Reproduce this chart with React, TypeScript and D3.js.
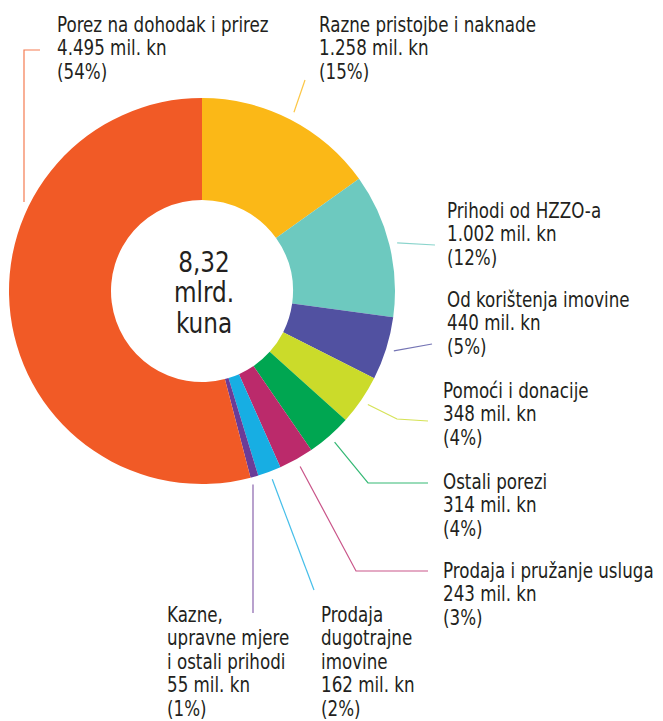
import React, { useEffect, useRef } from 'react';
import * as d3 from 'd3';

// izvori prihoda, mil. kn
const names: string[][] = [
  ['Razne pristojbe i naknade'],
  ['Prihodi od HZZO-a'],
  ['Od korištenja imovine'],
  ['Pomoći i donacije'],
  ['Ostali porezi'],
  ['Prodaja i pružanje usluga'],
  ['Prodaja', 'dugotrajne', 'imovine'],
  ['Kazne,', 'upravne mjere', 'i ostali prihodi'],
  ['Porez na dohodak i prirez'],
];
const values = [1258, 1002, 440, 348, 314, 243, 162, 55, 4495];
const colors = ['#FBB817', '#6DC9BF', '#5151A1', '#CBDB2A', '#00A651', '#BB2A6B', '#17AEE3', '#6B3C97', '#F15A26'];

// where the labels sit and how the leader lines bend (page pixels)
const labelPos = [
  { x: 319, y: 32, pts: [[305, 80]] },
  { x: 447, y: 218, pts: [[435, 245]] },
  { x: 447, y: 307, pts: [[432, 344]] },
  { x: 443, y: 398, pts: [[397, 419], [428, 421]] },
  { x: 443, y: 489, pts: [[368, 483], [428, 483]] },
  { x: 443, y: 578, pts: [[356, 571], [428, 571]] },
  { x: 321, y: 622, pts: [[314, 590]] },
  { x: 167, y: 622, pts: [[253, 613]] },
  { x: 57, y: 32, pts: [] },
];

const width = 655;
const height = 713;
const off = 8; // body margin

function Donut() {
  const ref = useRef<SVGSVGElement>(null);

  useEffect(() => {
    const svg = d3.select(ref.current);
    svg.selectAll('*').remove();

    const root = svg.append('g').attr('transform', `translate(${-off},${-off})`);

    const cx = 202;
    const cy = 291;
    const outer = 193;
    const inner = 91;
    const total = d3.sum(values);
    const nf = d3.formatLocale({ decimal: ',', thousands: '.', grouping: [3], currency: ['', ' kn'] });
    const fmtVal = nf.format(',d');
    const fmtTot = nf.format('.2f');

    const pie = d3.pie<number>().sort(null).value(d => d)(values);
    const arc = d3.arc<d3.PieArcDatum<number>>().innerRadius(inner).outerRadius(outer);

    const g = root.append('g').attr('transform', `translate(${cx},${cy})`);
    g.selectAll('path')
      .data(pie)
      .enter()
      .append('path')
      .attr('d', arc)
      .attr('fill', (d, i) => colors[i]);

    // center
    const ct = root.append('text')
      .attr('text-anchor', 'middle')
      .attr('fill', '#231F20')
      .attr('transform', `translate(${cx + 2},0) scale(0.92,1)`)
      .style('font-size', '28px');
    [fmtTot(total / 1000), 'mlrd.', 'kuna'].forEach((t, i) => {
      ct.append('tspan').attr('x', 0).attr('y', 272 + i * 30.5).text(t);
    });

    // leader lines
    const line = d3.line();
    pie.forEach((d, i) => {
      const lp = labelPos[i];
      let pts: [number, number][];
      if (i === values.length - 1) {
        pts = [[24, 202], [24, 50], [40, 50]];
      } else {
        const a = (d.startAngle + d.endAngle) / 2;
        const r = outer + 8;
        const start: [number, number] = [cx + r * Math.sin(a), cy - r * Math.cos(a)];
        if (i === 7) start[0] = lp.pts[0][0];
        pts = [start, ...(lp.pts as [number, number][])];
      }
      root.append('path')
        .attr('d', line(pts))
        .attr('fill', 'none')
        .attr('stroke', colors[i])
        .attr('stroke-opacity', 0.8)
        .attr('stroke-width', 1.2);
    });

    // labels
    pie.forEach((d, i) => {
      const lp = labelPos[i];
      const lines = [...names[i], `${fmtVal(values[i])} mil. kn`, `(${Math.round((values[i] / total) * 100)}%)`];
      const t = root.append('text')
        .attr('fill', '#231F20')
        .attr('transform', `translate(${lp.x},0) scale(0.885,1)`)
        .style('font-size', '21px');
      lines.forEach((s, j) => {
        t.append('tspan').attr('x', 0).attr('y', lp.y + j * 23.5).text(s);
      });
    });
  }, []);

  return (
    <svg
      ref={ref}
      width={width}
      height={height}
      style={{ display: 'block', fontFamily: "'DejaVu Sans Condensed', 'Liberation Sans Narrow', Roboto, sans-serif" }}
    />
  );
}

export default function App() {
  return <Donut />;
}
